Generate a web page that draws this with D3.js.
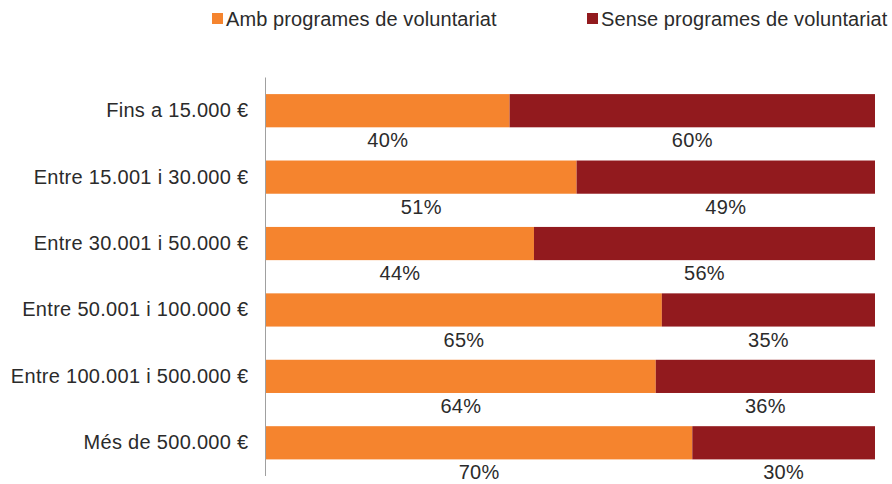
<!DOCTYPE html>
<html>
<head>
<meta charset="utf-8">
<script src="https://cdn.jsdelivr.net/npm/d3@7"></script>
<style>
  html, body { margin: 0; padding: 0; background: #fff; }
  svg text { font-family: "Liberation Sans", Arial, sans-serif; fill: #2b2b2b; letter-spacing: 0.3px; }
  svg g.legend text { letter-spacing: 0.1px; }
</style>
</head>
<body>
<svg id="chart" width="892" height="484"></svg>
<script>
// Income brackets (rows, top to bottom)
const categories = [
  "Fins a 15.000 €",
  "Entre 15.001 i 30.000 €",
  "Entre 30.001 i 50.000 €",
  "Entre 50.001 i 100.000 €",
  "Entre 100.001 i 500.000 €",
  "Més de 500.000 €"
];
// Share of entities with volunteering programmes (%)
const withProgrammes = [40, 51, 44, 65, 64, 70];
// Share of entities without volunteering programmes (%)
const withoutProgrammes = [60, 49, 56, 35, 36, 30];
const seriesNames = ["Amb programes de voluntariat", "Sense programes de voluntariat"];
const colors = ["#f5842e", "#921a1e"];
const fontSize = 20;

const svg = d3.select("#chart");

const x = d3.scaleLinear().domain([0, 100]).range([266, 875]);
const y = d3.scaleBand().domain(categories).range([77.5, 476])
  .paddingInner(0.5).paddingOuter(0.25);

const rows = categories.map((c, i) => ({
  cat: c,
  segs: [
    { v: withProgrammes[i], x0: 0, x1: withProgrammes[i], k: 0 },
    { v: withoutProgrammes[i], x0: withProgrammes[i], x1: withProgrammes[i] + withoutProgrammes[i], k: 1 }
  ]
}));

const g = svg.selectAll("g.row").data(rows).join("g").attr("class", "row");

g.selectAll("rect").data(d => d.segs.map(s => ({ ...s, cat: d.cat }))).join("rect")
  .attr("x", d => x(d.x0))
  .attr("y", d => y(d.cat))
  .attr("width", d => x(d.x1) - x(d.x0))
  .attr("height", y.bandwidth())
  .attr("fill", d => colors[d.k]);

// Percentage labels under each segment
g.selectAll("text.val").data(d => d.segs.map(s => ({ ...s, cat: d.cat }))).join("text")
  .attr("class", "val")
  .attr("x", d => (x(d.x0) + x(d.x1)) / 2)
  .attr("y", d => y(d.cat) + y.bandwidth() + 20)
  .attr("text-anchor", "middle")
  .attr("font-size", fontSize)
  .text(d => d.v + "%");

// Category axis
const axis = svg.append("g").attr("transform", "translate(265.5,0)")
  .call(d3.axisLeft(y).tickSize(0).tickPadding(17));
axis.select(".domain").attr("stroke", "#a0a0a0").attr("stroke-width", 1)
  .attr("d", "M0,77.5V476");
axis.selectAll("text").attr("font-size", fontSize).attr("fill", "#2b2b2b")
  .style("font-family", '"Liberation Sans", Arial, sans-serif');

// Legend
const legendX = [212, 587];
const lg = svg.selectAll("g.legend").data(seriesNames).join("g")
  .attr("class", "legend")
  .attr("transform", (d, i) => `translate(${legendX[i]},0)`);
lg.append("rect").attr("x", 0).attr("y", 13).attr("width", 11).attr("height", 11)
  .attr("fill", (d, i) => colors[i]);
lg.append("text").attr("x", 14).attr("y", 26)
  .attr("font-size", fontSize).text(d => d);
</script>
</body>
</html>
